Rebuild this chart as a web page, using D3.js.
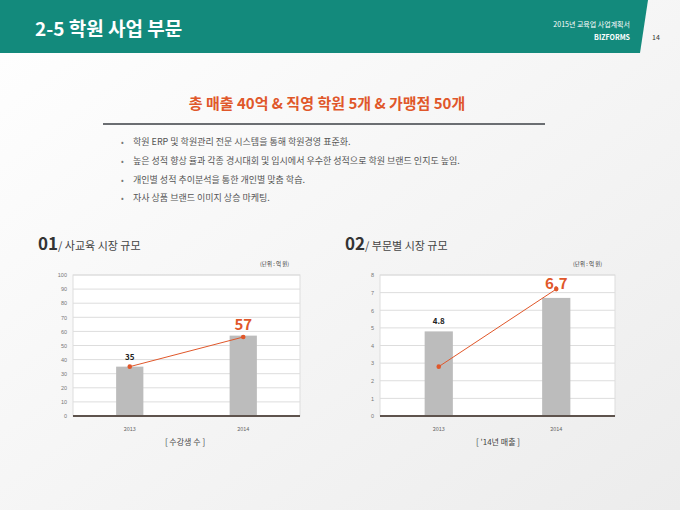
<!DOCTYPE html>
<html><head><meta charset="utf-8">
<script src="https://cdn.jsdelivr.net/npm/d3@7"></script>
<style>body{margin:0;font-family:"Noto Sans CJK KR","Noto Sans",sans-serif;}</style>
</head><body><svg id="c" width="680" height="510"></svg>
<script>
const years = ["2013","2014"];
const bars1 = [35, 57];
const line1 = [35, 56];
const ticks1 = [0,10,20,30,40,50,60,70,80,90,100];
const bars2 = [4.8, 6.7];
const line2 = [2.8, 7.2];
const ticks2 = [0,1,2,3,4,5,6,7,8];
const bullets = [
 "학원 ERP 및 학원관리 전문 시스템을 통해 학원경영 표준화.",
 "높은 성적 향상 율과 각종 경시대회 및 입시에서 우수한 성적으로 학원 브랜드 인지도 높임.",
 "개인별 성적 추이분석을 통한 개인별 맞춤 학습.",
 "자사 상품 브랜드 이미지 상승 마케팅."
];
const svg = d3.select("#c");
const defs = svg.append("defs");
const g = defs.append("linearGradient").attr("id","bg").attr("x1",0).attr("y1",0).attr("x2",1).attr("y2",1);
g.append("stop").attr("offset","0").attr("stop-color","#ffffff");
g.append("stop").attr("offset","1").attr("stop-color","#ececec");
svg.append("rect").attr("width",680).attr("height",510).attr("fill","url(#bg)");
svg.append("path").attr("d","M0,0H648L640,53H0Z").attr("fill","#138a7c");
svg.append("text").attr("x",35).attr("y",36).attr("fill","#fff").attr("font-size",19).attr("font-weight","bold").text("2-5 학원 사업 부문");
svg.append("text").attr("x",630).attr("y",27).attr("text-anchor","end").attr("fill","#fff").attr("font-size",7).text("2015년 교육업 사업계획서");
svg.append("text").attr("x",630).attr("y",40).attr("text-anchor","end").attr("fill","#fff").attr("font-size",7).attr("font-weight","bold").text("BIZFORMS");
svg.append("text").attr("x",652).attr("y",40).attr("fill","#333").attr("font-size",7).text("14");
svg.append("text").attr("x",327).attr("y",109).attr("text-anchor","middle").attr("fill","#e0572a").attr("font-size",15).attr("font-weight","bold").text("총 매출 40억 & 직영 학원 5개 & 가맹점 50개");
svg.append("line").attr("x1",103).attr("x2",545).attr("y1",124).attr("y2",124).attr("stroke","#6b6e72").attr("stroke-width",2);
bullets.forEach((b,i)=>{
  const y = 145 + i*18.8;
  svg.append("text").attr("x",121).attr("y",y).attr("fill","#777").attr("font-size",8).text("•");
  svg.append("text").attr("x",133).attr("y",y).attr("fill","#555").attr("font-size",9).text(b);
});

function chart(x0, x1, num, title, unitX, bars, line, ticks, maxV, caption, capX, labels, pt) {
  const head = svg.append("text").attr("x", x0-35).attr("y",250).attr("fill","#333");
  head.append("tspan").attr("font-size",17).attr("font-weight","bold").text(num);
  head.append("tspan").attr("font-size",11).attr("fill","#444").text("/ "+title);
  svg.append("text").attr("x",unitX).attr("y",266).attr("font-size",5.5).attr("fill","#333").text("(단위 : 억 원)");
  const y = d3.scaleLinear().domain([0,maxV]).range([416,275]);
  const x = d3.scaleBand().domain(years).range([x0,x1]).paddingInner(0.76).paddingOuter(0.38);
  const gr = svg.append("g");
  gr.append("rect").attr("x",x0).attr("y",275).attr("width",x1-x0).attr("height",141).attr("fill","#fff").attr("stroke","#ddd");
  ticks.forEach(t=>{
    gr.append("line").attr("x1",x0).attr("x2",x1).attr("y1",y(t)).attr("y2",y(t)).attr("stroke","#ddd");
  });
  const ax = gr.append("g").attr("transform",`translate(${x0-3},0)`).call(d3.axisLeft(y).tickValues(ticks).tickSize(0).tickPadding(3));
  ax.select(".domain").remove();
  ax.selectAll("text").attr("font-size",5.5).attr("fill","#777");
  gr.selectAll(".bar").data(bars).enter().append("rect")
    .attr("x",(d,i)=>x(years[i])).attr("width",x.bandwidth())
    .attr("y",d=>y(d)).attr("height",d=>416-y(d)).attr("fill","#bcbcbc");
  gr.append("line").attr("x1",x0).attr("x2",x1).attr("y1",416).attr("y2",416).attr("stroke","#5e534d").attr("stroke-width",2);
  years.forEach(yr=>{
    gr.append("text").attr("x",x(yr)+x.bandwidth()/2).attr("y",431).attr("text-anchor","middle").attr("font-size",5.5).attr("fill","#666").text(yr);
  });
  const cx = i => x(years[i])+x.bandwidth()/2;
  gr.append("path").datum(line).attr("fill","none").attr("stroke","#e0572a").attr("stroke-width",1)
    .attr("d", d3.line().x((d,i)=>cx(i)).y(d=>y(d)));
  gr.selectAll(".pt").data(line).enter().append("circle").attr("cx",(d,i)=>cx(i)).attr("cy",d=>y(d)).attr("r",2.3).attr("fill","#e0572a");
  gr.append("text").attr("x",cx(0)).attr("y",y(pt[0])).attr("text-anchor","middle").attr("font-size",8).attr("font-weight","bold").attr("fill","#222").text(labels[0]);
  gr.append("text").attr("x",cx(1)).attr("y",y(pt[1])).attr("text-anchor","middle").attr("font-size",15).attr("font-weight","bold").attr("fill","#e0572a").text(labels[1]);
  svg.append("text").attr("x",capX).attr("y",445).attr("text-anchor","middle").attr("font-size",8).attr("fill","#444").text(caption);
}
chart(73, 300, "01", "사교육 시장 규모", 260, bars1, line1, ticks1, 100, "[ 수강생 수 ]", 185, ["35","57"], [39.5, 61]);
chart(380, 615, "02", "부문별 시장 규모", 573, bars2, line2, ticks2, 8, "[ '14년 매출 ]", 498, ["4.8","6.7"], [5.2, 7.2]);
</script></body></html>
